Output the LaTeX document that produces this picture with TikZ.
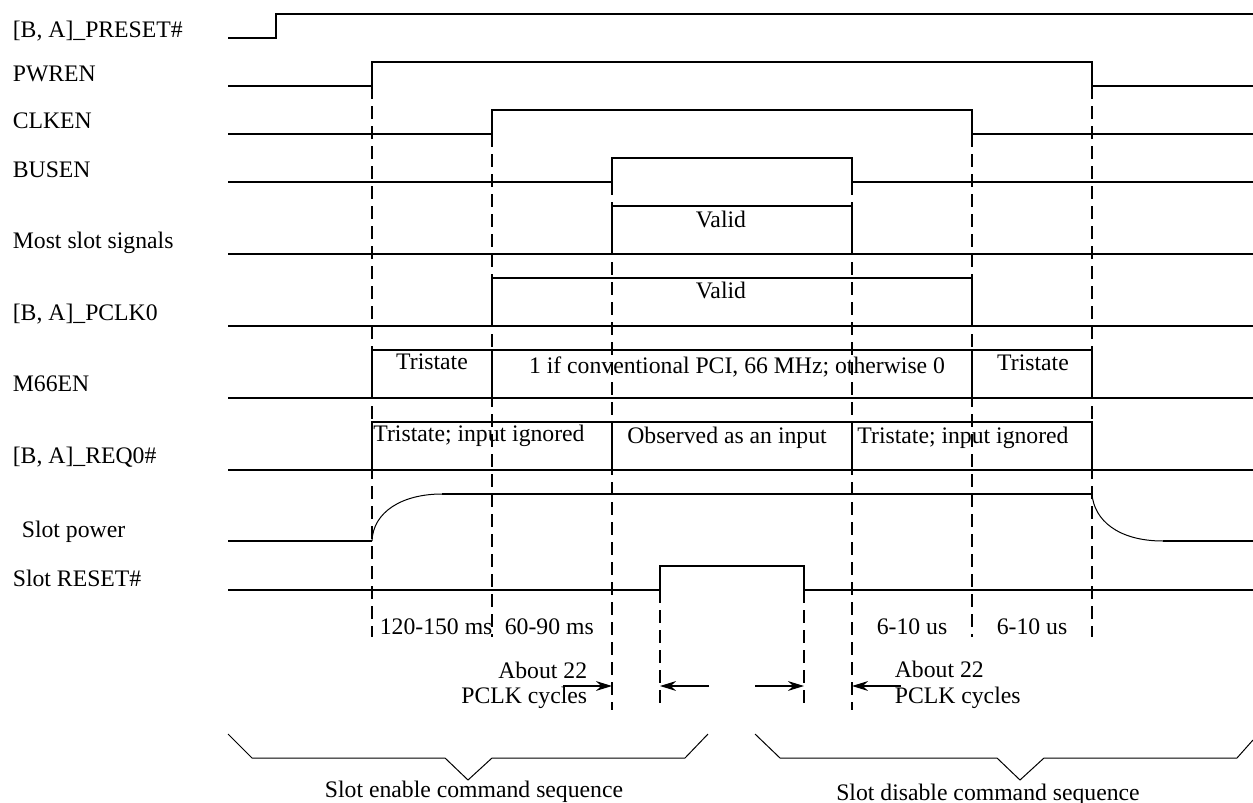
\documentclass[tikz,border=0pt]{standalone}
\usepackage{fontspec}
\setmainfont{Liberation Serif}
\usetikzlibrary{arrows.meta}

\begin{document}
\begin{tikzpicture}[x=0.5pt, y=-0.5pt, line width=0.85pt,
  font=\fontsize{11.85}{14}\selectfont,
  guide/.style={dash pattern=on 6.5pt off 3.5pt},
  lbl/.style={anchor=base west, inner sep=0pt},
  txt/.style={anchor=base, inner sep=0pt},
  thin/.style={line width=0.5pt},
  dim/.style={-{Stealth[length=8pt, angle'=34]}}]
\useasboundingbox (0,0) rectangle (1253,803);

% signal names
\node[lbl] (preset) at (12,38) {[B, A]\_PRESET\#};
\node[lbl] (pwren) at (12,81) {PWREN};
\node[lbl] (clken) at (12,128) {CLKEN};
\node[lbl] (busen) at (12,177) {BUSEN};
\node[lbl] (most) at (12,248) {Most slot signals};
\node[lbl] (pclk) at (12,320) {[B, A]\_PCLK0};
\node[lbl] (m66en) at (12,391) {M66EN};
\node[lbl] (req) at (12,463) {[B, A]\_REQ0\#};
\node[lbl] (power) at (21,537) {Slot power};
\node[lbl] (reset) at (12,586) {Slot RESET\#};

% waveforms
\draw (228,38) -- (276,38) -- (276,14) -- (1253,14);
\draw (228,86) -- (372,86) -- (372,62) -- (1092,62) -- (1092,86) -- (1253,86);
\draw (228,134) -- (492,134) -- (492,110) -- (972,110) -- (972,134) -- (1253,134);
\draw (228,182) -- (612,182) -- (612,158) -- (852,158) -- (852,182) -- (1253,182);
\draw (228,254) -- (1253,254) (612,254) -- (612,206) -- (852,206) -- (852,254);
\draw (228,326) -- (1253,326) (492,326) -- (492,278) -- (972,278) -- (972,326);
\draw (228,398) -- (1253,398) (372,398) -- (372,350) -- (1092,350) -- (1092,398)
  (492,350) -- (492,398) (972,350) -- (972,398);
\draw (228,470) -- (1253,470) (372,470) -- (372,422) -- (1092,422) -- (1092,470)
  (612,422) -- (612,470) (852,422) -- (852,470);
\draw (228,541) -- (372,541) (442,494) -- (1092,494) (1163,541) -- (1253,541);
\draw[thin] (372,541) .. controls (373,512) and (402,494) .. (442,494);
\draw[thin] (1092,494) .. controls (1094,520) and (1118,541) .. (1163,541);
\draw (228,590) -- (660,590) -- (660,566) -- (804,566) -- (804,590) -- (1253,590);

% values
\node[txt] (v1) at (721,227) {Valid};
\node[txt] (v2) at (721,298) {Valid};
\node[txt] (m1) at (432,369) {Tristate};
\node[txt] (m2) at (737,373) {1 if conventional PCI, 66 MHz; otherwise 0};
\node[txt] (m3) at (1033,370) {Tristate};
\node[txt] (r1) at (479,441) {Tristate; input ignored};
\node[txt] (r2) at (727,443) {Observed as an input};
\node[txt] (r3) at (963,443) {Tristate; input ignored};

% time marks
\foreach \x/\a/\b in {372/86/637, 492/134/637, 612/182/710, 660/590/710,
  804/590/710, 852/182/710, 972/134/637, 1092/86/637}
  \draw[guide] (\x,\a) -- (\x,\b);
\node[lbl] (d1) at (379,634) {120-150 ms};
\node[lbl] (d2) at (504,634) {60-90 ms};
\node[txt] (d3) at (912,634) {6-10 us};
\node[txt] (d4) at (1032,634) {6-10 us};

\coordinate (busup) at (612,686);
\coordinate (rstup) at (660,686);
\coordinate (rstdn) at (804,686);
\coordinate (busdn) at (852,686);
\draw[dim] (563,686) -- (busup);
\draw[dim] (709,686) -- (rstup);
\draw[dim] (755,686) -- (rstdn);
\draw[dim] (901,686) -- (busdn);
\node[anchor=base east, inner sep=0pt] (a1) at (588,678) {About 22};
\node[anchor=base east, inner sep=0pt] (c1) at (588,703) {PCLK cycles};
\node[lbl] (a2) at (894,677) {About 22};
\node[lbl] (c2) at (894,703) {PCLK cycles};

% sequences
\draw[thin] (228,734) -- (252,758) -- (445,758) -- (468,780) -- (492,758)
  -- (685,758) -- (708,734);
\draw[thin] (755,734) -- (780,758) -- (997,758) -- (1020,780) -- (1044,758)
  -- (1237,758) -- (1253,740);
\node[txt] (en) at (474,797) {Slot enable command sequence};
\node[txt] (dis) at (988,800) {Slot disable command sequence};
\end{tikzpicture}
\end{document}
